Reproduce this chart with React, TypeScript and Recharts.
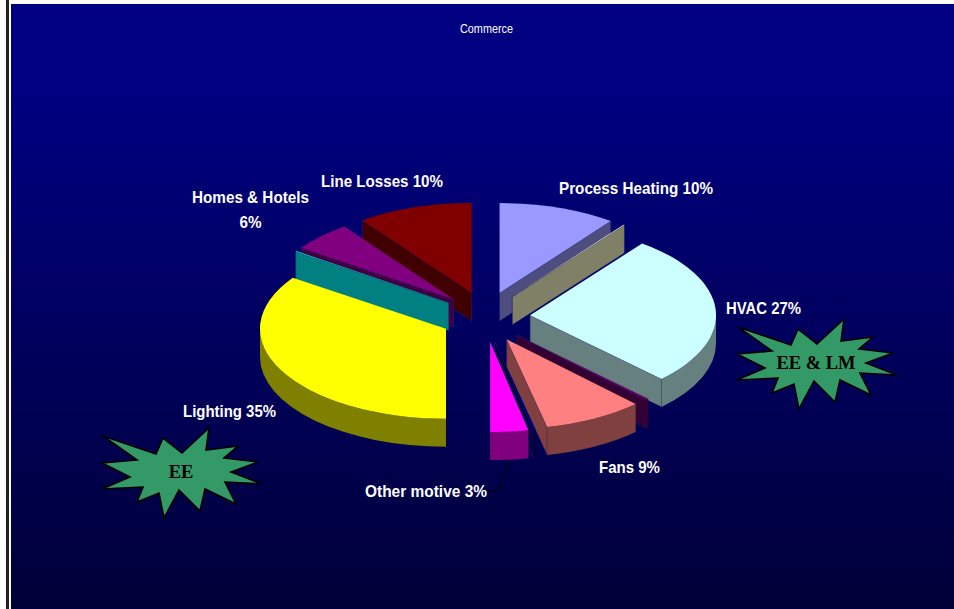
import React from "react";
import { PieChart, Pie, Cell } from "recharts";

// Clockwise from 12 o'clock down to 6 o'clock
const rightNames = ["Process Heating", "r-a", "HVAC", "r-b", "Fans", "r-c", "Other motive"];
const rightValues = [10.2, 0.1, 27.2, 0.3, 8.7, 0.2, 3.3];
const rightColors = ["#9999ff", "#ffffcc", "#ccffff", "#660066", "#ff8080", "#000080", "#ff00ff"];

// Counter-clockwise from 12 o'clock down to 6 o'clock
const leftNames = ["Line Losses", "Homes & Hotels", "l-a", "Lighting"];
const leftValues = [10, 5.3, 0.1, 34.6];
const leftColors = ["#800000", "#800080", "#00ffff", "#ffff00"];

const labelLines: Record<string, string[]> = {
  "Process Heating": ["Process Heating 10%"],
  HVAC: ["HVAC 27%"],
  Fans: ["Fans 9%"],
  "Other motive": ["Other motive 3%"],
  "Line Losses": ["Line Losses 10%"],
  "Homes & Hotels": ["Homes & Hotels", "6%"],
  Lighting: ["Lighting 35%"],
};

const W = 954;
const H = 609;
const CX = 485.5;
const CY = 317;
const R = 186;
const TILT = 0.484;
const EXPLODE_X = 0.24;
const EXPLODE_Y = 0.28;
const DEPTH = 28;
const rad = (d: number) => (d * Math.PI) / 180;

const labelPos: Record<string, { x: number; y: number; w: number }> = {
  "Process Heating": { x: 559, y: 194, w: 154 },
  HVAC: { x: 726, y: 314, w: 75 },
  Fans: { x: 599, y: 473, w: 61 },
  "Other motive": { x: 365, y: 497, w: 122 },
  "Line Losses": { x: 321, y: 187, w: 122 },
  "Homes & Hotels": { x: 192, y: 203, w: 117 },
  Lighting: { x: 183, y: 417, w: 93 },
};

function darken(hex: string) {
  const n = parseInt(hex.slice(1), 16);
  const c = (s: number) => Math.round(((n >> s) & 255) / 2).toString(16).padStart(2, "0");
  return `#${c(16)}${c(8)}${c(0)}`;
}

function Slice3D(props: any) {
  const { cx, cy, outerRadius: r, startAngle, endAngle, fill } = props;
  const norm = (a: number) => (a < 0 ? a + 360 : a);
  const t0 = norm(90 - Math.max(startAngle, endAngle));
  const t1 = t0 + Math.abs(endAngle - startAngle);
  const mid = (t0 + t1) / 2;
  const ry = r * TILT;
  const ox = cx + EXPLODE_X * r * Math.sin(rad(mid));
  const oy = cy - EXPLODE_Y * ry * Math.cos(rad(mid));
  const pt = (t: number, d = 0) => `${ox + r * Math.sin(rad(t))} ${oy - ry * Math.cos(rad(t)) + d}`;
  const apex = (d = 0) => `${ox} ${oy + d}`;
  const large = t1 - t0 > 180 ? 1 : 0;
  const wall = darken(fill);
  const a0 = Math.max(t0, 90);
  const a1 = Math.min(t1, 270);
  const eps = 1e-6;
  const radial = (t: number) => (
    <path
      d={`M${apex()} L${pt(t)} L${pt(t, DEPTH)} L${apex(DEPTH)} Z`}
      fill={wall}
      stroke="#20206a"
      strokeWidth={0.6}
    />
  );
  return (
    <g>
      {Math.sin(rad(t0)) < -eps && radial(t0)}
      {Math.sin(rad(t1)) > eps && radial(t1)}
      {a0 < a1 && (
        <path
          d={`M${pt(a0)} A${r} ${ry} 0 0 1 ${pt(a1)} L${pt(a1, DEPTH)} A${r} ${ry} 0 0 0 ${pt(a0, DEPTH)} Z`}
          fill={wall}
        />
      )}
      <path d={`M${apex()} L${pt(t0)} A${r} ${ry} 0 ${large} 1 ${pt(t1)} Z`} fill={fill} />
    </g>
  );
}

function renderLabel(props: any) {
  const name = props.name ?? props.payload?.name;
  const lines = labelLines[name];
  const pos = labelPos[name];
  if (!lines || !pos) return null;
  const style = { fontFamily: "Liberation Sans", fontWeight: 700, fontSize: 17 };
  return (
    <g key={name}>
      <text x={pos.x} y={pos.y} fill="#ffffff" textLength={pos.w} lengthAdjust="spacingAndGlyphs" style={style}>
        {lines[0]}
      </text>
      {lines[1] && (
        <text
          x={pos.x + pos.w / 2 - 11}
          y={pos.y + 25}
          fill="#ffffff"
          textLength={22}
          lengthAdjust="spacingAndGlyphs"
          style={style}
        >
          {lines[1]}
        </text>
      )}
      {name === "Other motive" && (
        <polyline points="487,491 498,491 510,461" fill="none" stroke="#000000" strokeWidth={1} />
      )}
    </g>
  );
}

const starShape = [
  [13, 35], [66, 53], [73, 37], [92, 52], [119, 27], [116, 49], [148, 45], [134, 57],
  [168, 61], [141, 71], [172, 83], [135, 81], [146, 103], [115, 88], [110, 110], [89, 89],
  [74, 117], [69, 92], [47, 101], [53, 86], [12, 88], [40, 76], [12, 62], [47, 59],
];

function Star({ x, y, text }: { x: number; y: number; text: string }) {
  const pts = starShape.map(([px, py]) => `${x + px},${y + py}`).join(" ");
  return (
    <g>
      <polygon points={pts} fill="#339966" stroke="#000000" strokeWidth={1.6} strokeLinejoin="miter" />
      <text
        x={x + 91}
        y={y + 77}
        textAnchor="middle"
        fill="#000000"
        style={{ fontFamily: "Liberation Serif", fontWeight: 700, fontSize: 18.5 }}
      >
        {text}
      </text>
    </g>
  );
}

const rightData = rightNames.map((name, i) => ({ name, value: rightValues[i] }));
const leftData = leftNames.map((name, i) => ({ name, value: leftValues[i] }));

export default function App() {
  return (
    <div
      style={{
        position: "absolute",
        left: 0,
        top: 0,
        width: W,
        height: H,
        overflow: "hidden",
        background: "#ffffff",
      }}
    >
      <div style={{ position: "absolute", left: 6, top: 0, width: 3, height: H, background: "#222222" }} />
      <div
        style={{
          position: "absolute",
          left: 11,
          top: 4,
          width: W - 11,
          height: H - 4,
          background: "linear-gradient(to bottom, #000080 0%, #000080 15%, #000038 100%)",
        }}
      />
      <div style={{ position: "absolute", left: 0, top: 0 }}>
        <PieChart width={W} height={H} margin={{ top: 0, right: 0, bottom: 0, left: 0 }}>
          <text
            x={460}
            y={33}
            textLength={53}
            lengthAdjust="spacingAndGlyphs"
            fill="#ffffff"
            style={{ fontFamily: "Liberation Sans", fontSize: 12 }}
          >
            Commerce
          </text>
          <Pie
            data={rightData}
            dataKey="value"
            nameKey="name"
            cx={CX}
            cy={CY}
            outerRadius={R}
            startAngle={90}
            endAngle={-90}
            stroke="none"
            shape={Slice3D}
            label={renderLabel}
            labelLine={false}
            isAnimationActive={false}
          >
            {rightColors.map((c) => (
              <Cell key={c} fill={c} />
            ))}
          </Pie>
          <Pie
            data={leftData}
            dataKey="value"
            nameKey="name"
            cx={CX}
            cy={CY}
            outerRadius={R}
            startAngle={90}
            endAngle={270}
            stroke="none"
            shape={Slice3D}
            label={renderLabel}
            labelLine={false}
            isAnimationActive={false}
          >
            {leftColors.map((c) => (
              <Cell key={c} fill={c} />
            ))}
          </Pie>
          <Star x={90} y={401} text="EE" />
          <Star x={725} y={292} text="EE & LM" />
        </PieChart>
      </div>
    </div>
  );
}
